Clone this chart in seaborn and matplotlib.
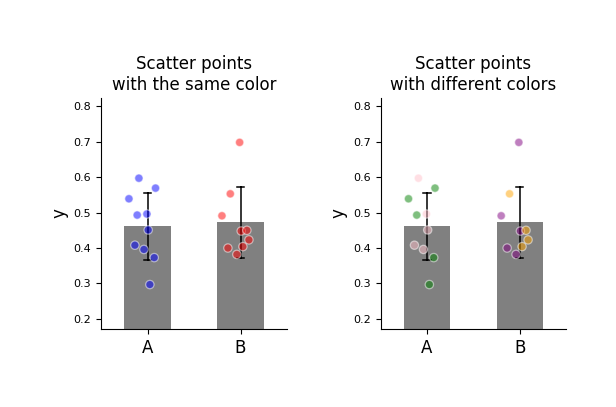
import numpy as np
import pandas as pd
import matplotlib
matplotlib.use('Agg')
import matplotlib.pyplot as plt
import seaborn as sns

# Data
groups = ['A', 'B']
values_a = [0.597, 0.569, 0.539, 0.493, 0.496, 0.451, 0.408, 0.396, 0.373, 0.297]
values_b = [0.698, 0.553, 0.491, 0.448, 0.450, 0.423, 0.404, 0.400, 0.382]
jitter_a = [-0.093, 0.086, -0.20, -0.111, -0.007, 0.007, -0.136, -0.039, 0.072, 0.025]
jitter_b = [-0.01, -0.11, -0.20, 0.007, 0.068, 0.09, 0.025, -0.136, -0.04]
same_colors = {'A': 'blue', 'B': 'red'}
point_colors_a = ['pink', 'green', 'green', 'green', 'pink', 'pink', 'pink', 'pink', 'green', 'green']
point_colors_b = ['purple', 'orange', 'purple', 'purple', 'orange', 'orange', 'orange', 'purple', 'purple']

df = pd.DataFrame({
    'group': ['A'] * len(values_a) + ['B'] * len(values_b),
    'y': values_a + values_b,
    'jitter': jitter_a + jitter_b,
    'color': point_colors_a + point_colors_b,
})
df['xpos'] = df['group'].map({g: i for i, g in enumerate(groups)}) + df['jitter']

fig = plt.figure(figsize=(6.16, 4.07), dpi=100)
ax1 = fig.add_axes([0.164, 0.192, 0.302, 0.567])
ax2 = fig.add_axes([0.618, 0.192, 0.301, 0.567])

for ax, title, hue, palette in [
    (ax1, 'Scatter points\nwith the same color', 'group', same_colors),
    (ax2, 'Scatter points\nwith different colors', 'color', {c: c for c in set(df['color'])}),
]:
    sns.barplot(data=df, x='group', y='y', order=groups, color='gray', width=0.5,
                errorbar='sd', capsize=0.08,
                err_kws={'color': 'black', 'linewidth': 1.1}, ax=ax)
    sns.scatterplot(data=df, x='xpos', y='y', hue=hue, palette=palette, alpha=0.5,
                    s=36, edgecolor='white', linewidth=0.9, legend=False, ax=ax, zorder=3)
    ax.set_xlim(-0.5, 1.5)
    ax.set_ylim(0.172, 0.823)
    ax.set_xticks(range(len(groups)))
    ax.set_xticklabels(groups, fontsize=12)
    ax.set_xlabel('')
    ax.set_ylabel('y', fontsize=12)
    ax.tick_params(axis='y', labelsize=8)
    ax.set_title(title, fontsize=12)
    sns.despine(ax=ax)

fig.savefig('out.png', dpi=100)
